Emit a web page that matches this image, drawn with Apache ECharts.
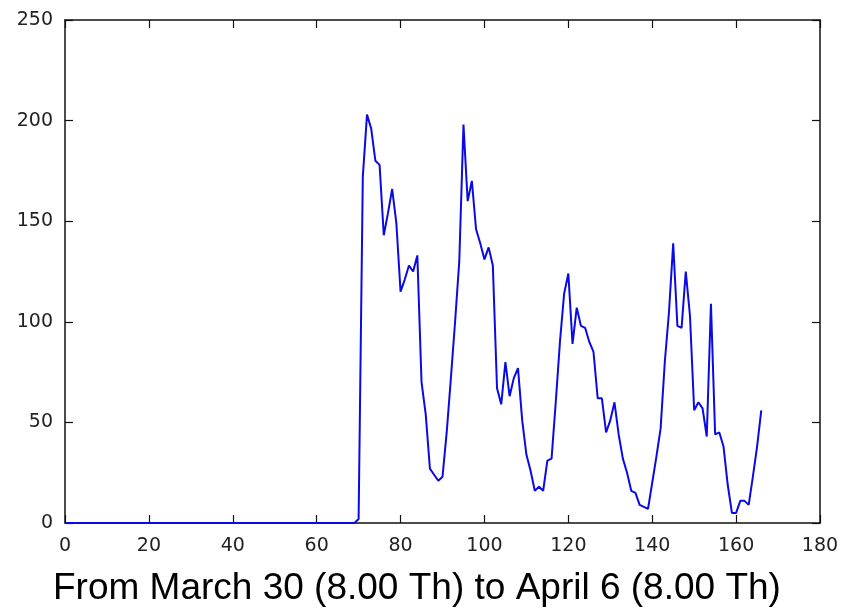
<!DOCTYPE html>
<html>
<head>
<meta charset="utf-8">
<script src="https://cdn.jsdelivr.net/npm/echarts@6/dist/echarts.min.js"></script>
<style>
html,body{margin:0;padding:0;background:#fff;}
#chart{width:844px;height:609px;}
</style>
</head>
<body>
<div id="chart"></div>
<script>
// Hourly counts, index = hours since March 30 (8.00 Th)
var values = [
  0,0,0,0,0,0,0,0,0,0,
  0,0,0,0,0,0,0,0,0,0,
  0,0,0,0,0,0,0,0,0,0,
  0,0,0,0,0,0,0,0,0,0,
  0,0,0,0,0,0,0,0,0,0,
  0,0,0,0,0,0,0,0,0,0,
  0,0,0,0,0,0,0,0,0,0,
  2,172,203,196,180,178,143,154,166,149,
  115,121,128,125,133,70,54,27,24,21,
  23,45,72,100,130,198,160,170,146,139,
  131,137,128,67,59,80,63,72,77,51,
  34,26,16,18,16,31,32,60,90,114,
  124,89,107,98,97,90,85,62,62,45,
  51,60,44,32,25,16,15,9,8,7,
  20,33,47,80,105,139,98,97,125,103,
  56,60,57,43,109,44,45,38,19,5,
  5,11,11,9,23,38,56
];
var xTicks = [0, 20, 40, 60, 80, 100, 120, 140, 160, 180];
var yTicks = [0, 50, 100, 150, 200, 250];
var titleText = 'From March 30 (8.00 Th) to April 6 (8.00 Th)';

var points = values.map(function (v, i) { return [i, v]; });

var chart = echarts.init(document.getElementById('chart'), null, {renderer: 'canvas'});
var axisLineStyle = {color: '#111', width: 1.5};
var tickStyle = {show: true, inside: true, length: 8, lineStyle: {color: '#111', width: 1.2}};
var labelStyle = {fontFamily: 'DejaVu Sans', fontSize: 19, color: '#222'};

chart.setOption({
  animation: false,
  backgroundColor: '#fff',
  title: {
    text: titleText,
    left: 53,
    top: 570,
    padding: 0,
    textStyle: {fontFamily: 'Liberation Sans', fontSize: 37, fontWeight: 'normal', color: '#000'}
  },
  grid: {left: 65, right: 24, top: 20, bottom: 86, containLabel: false},
  xAxis: [
    {
      type: 'value', position: 'bottom', min: xTicks[0], max: xTicks[xTicks.length - 1], interval: 20,
      axisLine: {show: true, onZero: false, lineStyle: axisLineStyle},
      axisTick: tickStyle,
      axisLabel: Object.assign({margin: 14}, labelStyle),
      splitLine: {show: false}
    },
    {
      type: 'value', position: 'top', min: xTicks[0], max: xTicks[xTicks.length - 1], interval: 20,
      axisLine: {show: true, onZero: false, lineStyle: axisLineStyle},
      axisTick: tickStyle,
      axisLabel: {show: false},
      splitLine: {show: false}
    }
  ],
  yAxis: [
    {
      type: 'value', position: 'left', min: yTicks[0], max: yTicks[yTicks.length - 1], interval: 50,
      axisLine: {show: true, onZero: false, lineStyle: axisLineStyle},
      axisTick: tickStyle,
      axisLabel: Object.assign({margin: 12}, labelStyle),
      splitLine: {show: false}
    },
    {
      type: 'value', position: 'right', min: yTicks[0], max: yTicks[yTicks.length - 1], interval: 50,
      axisLine: {show: true, onZero: false, lineStyle: axisLineStyle},
      axisTick: tickStyle,
      axisLabel: {show: false},
      splitLine: {show: false}
    }
  ],
  series: [{
    type: 'line',
    xAxisIndex: 0,
    yAxisIndex: 0,
    data: points,
    showSymbol: false,
    symbol: 'none',
    lineStyle: {color: '#0a0ae6', width: 2},
    itemStyle: {color: '#0a0ae6'}
  }]
});
</script>
</body>
</html>
